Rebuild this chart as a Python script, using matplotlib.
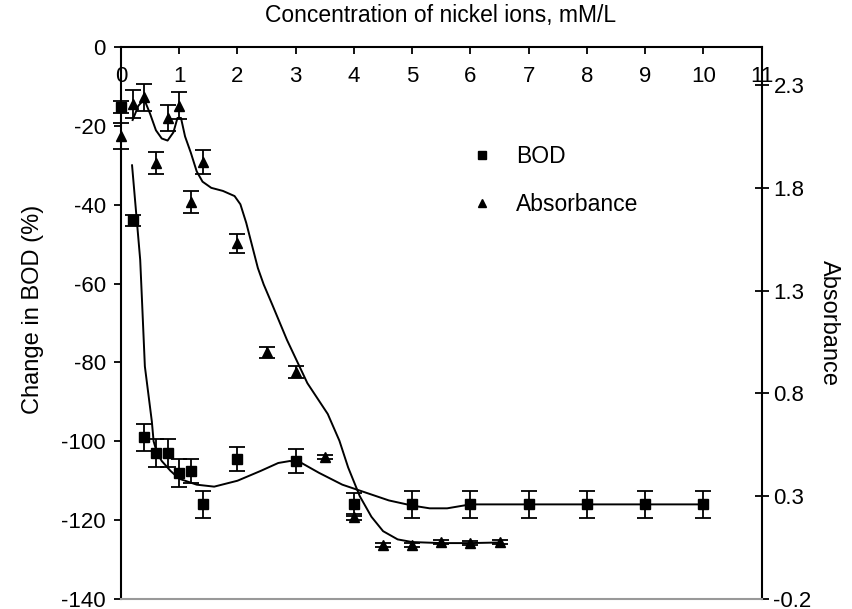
import matplotlib.pyplot as plt

plt.rcParams['font.family'] = ['Liberation Sans', 'DejaVu Sans']
plt.rcParams['axes.unicode_minus'] = False

# BOD data (left axis)
bod_x = [0, 0.2, 0.4, 0.6, 0.8, 1.0, 1.2, 1.4, 2, 3, 4, 5, 6, 7, 8, 9, 10]
bod_y = [-15.2, -44, -99, -103, -103, -108, -107.5, -116, -104.5, -105, -116,
         -116, -116, -116, -116, -116, -116]
bod_err = [1.5, 1.5, 3.5, 3.5, 3.5, 3.5, 3.0, 3.5, 3.0, 3.0, 3.0,
           3.5, 3.5, 3.5, 3.5, 3.5, 3.5]

# BOD fitted curve
bod_fit_x = [0.19, 0.33, 0.36, 0.41, 0.53, 0.56, 0.62, 0.7, 0.85, 1.0, 1.3,
             1.6, 2.0, 2.4, 2.7, 2.9, 3.1, 3.4, 3.8, 4.2, 4.6, 5.0, 5.3, 5.6,
             6.0, 10]
bod_fit_y = [-30, -54, -64, -81, -95, -100, -103, -105, -107.5, -109.5, -111,
             -111.5, -110, -107.5, -105.5, -105, -105.5, -108, -111, -113,
             -115, -116.3, -117, -117, -116, -116]

# Absorbance data (right axis)
abs_x = [0, 0.2, 0.4, 0.6, 0.8, 1.0, 1.2, 1.4, 2, 2.5, 3, 3.5, 4, 4.5, 5, 5.5, 6, 6.5]
abs_y = [2.05, 2.21, 2.24, 1.92, 2.14, 2.20, 1.73, 1.925, 1.53, 1.0, 0.905,
         0.49, 0.2, 0.063, 0.063, 0.077, 0.072, 0.077]
abs_err = [0.063, 0.068, 0.067, 0.054, 0.065, 0.067, 0.053, 0.058, 0.045,
           0.028, 0.03, 0.01, 0.015, 0.01, 0.01, 0.01, 0.01, 0.01]

# Absorbance fitted curve
abs_fit_x = [0.2, 0.3, 0.4, 0.5, 0.6, 0.7, 0.8, 0.9, 0.97, 1.03, 1.1, 1.2,
             1.3, 1.4, 1.55, 1.75, 1.95, 2.05, 2.15, 2.25, 2.35, 2.45, 2.6,
             2.85, 3.2, 3.55, 3.75, 3.9, 4.1, 4.3, 4.5, 4.75, 5.0, 5.5, 6.0,
             6.5]
abs_fit_y = [2.13, 2.2, 2.23, 2.16, 2.08, 2.04, 2.03, 2.07, 2.14, 2.14, 2.05,
             1.97, 1.88, 1.83, 1.8, 1.785, 1.76, 1.72, 1.63, 1.52, 1.41, 1.33,
             1.23, 1.06, 0.85, 0.70, 0.57, 0.44, 0.3, 0.2, 0.13, 0.09, 0.077,
             0.072, 0.072, 0.075]

fig = plt.figure(figsize=(8.52, 6.09), dpi=100)
ax = fig.add_axes([0.142, 0.0164, 0.752, 0.9064])

ax.plot(bod_fit_x, bod_fit_y, color='black', lw=1.4)
ax.errorbar(bod_x, bod_y, yerr=bod_err, fmt='s', color='black', ms=7,
            capsize=6, elinewidth=1.3, capthick=1.3, clip_on=False,
            label='BOD')

ax.set_xlim(0, 11)
ax.set_ylim(-140, 0)
ax.set_xticks(range(0, 12))
ax.set_yticks(range(-140, 1, 20))
ax.spines['bottom'].set_position(('data', 0))
ax.spines['bottom'].set_linewidth(1.5)
ax.spines['left'].set_linewidth(1.5)
ax.spines['top'].set_visible(False)
ax.spines['right'].set_visible(False)
ax.tick_params(axis='x', direction='out', length=5, width=1.3,
               labelsize=16, pad=9)
ax.tick_params(axis='y', direction='out', length=5, width=1.3,
               labelsize=16, pad=6)
ax.set_ylabel('Change in BOD (%)', fontsize=17)
ax.yaxis.set_label_coords(-0.12, 0.525)

ax2 = ax.twinx()
ax2.plot(abs_fit_x, abs_fit_y, color='black', lw=1.4)
ax2.errorbar(abs_x, abs_y, yerr=abs_err, fmt='^', color='black', ms=7,
             capsize=6, elinewidth=1.3, capthick=1.3, clip_on=False,
             label='Absorbance')
ax2.set_ylim(-0.2, 2.485)
ax2.set_yticks([-0.2, 0.3, 0.8, 1.3, 1.8, 2.3])
ax2.set_yticklabels(['-0.2', '0.3', '0.8', '1.3', '1.8', '2.3'])
ax2.spines['left'].set_visible(False)
ax2.spines['top'].set_visible(False)
ax2.spines['right'].set_linewidth(1.5)
ax2.spines['bottom'].set_color('#999999')
ax2.spines['bottom'].set_linewidth(1.5)
ax2.tick_params(axis='y', direction='inout', length=10, width=1.3,
                labelsize=16)
ax2.set_ylabel('Absorbance', fontsize=17, rotation=270, labelpad=20)

h1, l1 = ax.get_legend_handles_labels()
h2, l2 = ax2.get_legend_handles_labels()
leg = ax2.legend([h[0] for h in h1 + h2], l1 + l2, loc='upper left',
                 bbox_to_anchor=(0.513, 0.86), frameon=False, fontsize=16.5,
                 handlelength=1, handletextpad=1.0, markerscale=0.75,
                 labelspacing=1.1)

fig.text(0.517, 0.975, 'Concentration of nickel ions, mM/L', fontsize=16.5,
         ha='center', va='center')

fig.savefig('out.png', dpi=100)
